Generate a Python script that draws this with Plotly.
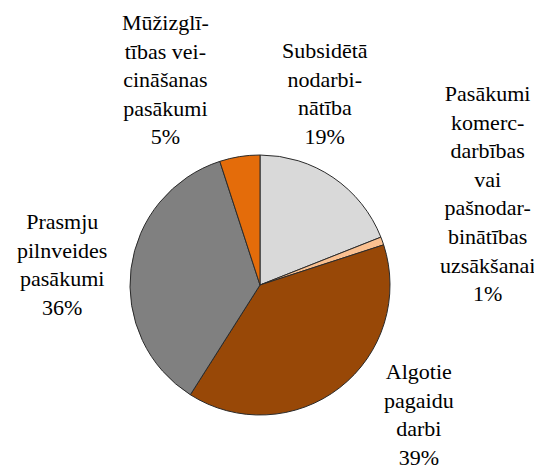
import plotly.graph_objects as go

categories = [
    "Subsidētā nodarbinātība",
    "Pasākumi komercdarbības vai pašnodarbinātības uzsākšanai",
    "Algotie pagaidu darbi",
    "Prasmju pilnveides pasākumi",
    "Mūžizglītības veicināšanas pasākumi",
]
values = [19, 1, 39, 36, 5]
label_lines = [
    ["Subsidētā", "nodarbi-", "nātība"],
    ["Pasākumi", "komerc-", "darbības", "vai", "pašnodar-", "binātības", "uzsākšanai"],
    ["Algotie", "pagaidu", "darbi"],
    ["Prasmju", "pilnveides", "pasākumi"],
    ["Mūžizglī-", "tības vei-", "cināšanas", "pasākumi"],
]
colors = ["#D9D9D9", "#FAC090", "#984807", "#808080", "#E46C0A"]

W, H = 542, 471
OFF = 8  # default page body margin
# label centre positions in window pixels
label_pos = [(325, 94), (487, 193), (419, 414), (62, 264), (165, 80)]


def fx(px):
    return (px - OFF) / W


def fy(py):
    return 1 - (py - OFF) / H


fig = go.Figure()
fig.add_trace(go.Pie(
    labels=categories,
    values=values,
    sort=False,
    direction="clockwise",
    rotation=0,
    marker=dict(colors=colors, line=dict(color="#2b2b2b", width=1)),
    textinfo="none",
    hoverinfo="label+percent",
    showlegend=False,
    domain=dict(x=[fx(130), fx(390)], y=[fy(415), fy(155)]),
))

for lines, v, (px, py) in zip(label_lines, values, label_pos):
    txt = "<br>".join(lines + [f"{v}%"])
    fig.add_annotation(
        x=fx(px), y=fy(py), xref="paper", yref="paper",
        text=txt, showarrow=False, align="center",
        xanchor="center", yanchor="middle",
        font=dict(family="Liberation Serif", size=22, color="#000000"),
    )

fig.update_layout(
    width=W, height=H,
    margin=dict(l=0, r=0, t=0, b=0),
    paper_bgcolor="white", plot_bgcolor="white",
    font=dict(family="Liberation Serif"),
)
fig.write_html("out.html")
